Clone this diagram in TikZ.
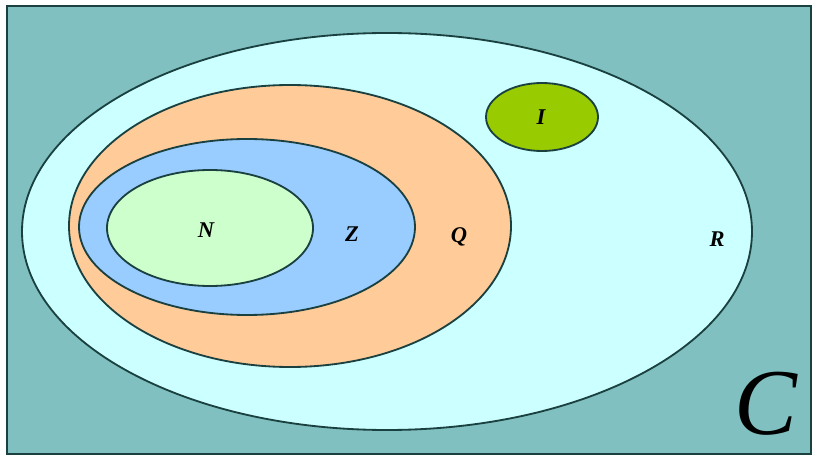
\documentclass[tikz,border=0pt]{standalone}
\usepackage{fontspec}
\setmainfont{Liberation Serif}
\definecolor{bgteal}{HTML}{80C0C0}
\definecolor{setedge}{HTML}{1A4040}
\definecolor{realcyan}{HTML}{CCFFFF}
\definecolor{ratorange}{HTML}{FFCC99}
\definecolor{intblue}{HTML}{99CCFF}
\definecolor{natgreen}{HTML}{CCFFCC}
\definecolor{irrgreen}{HTML}{99CC00}
\tikzset{
  setline/.style={draw=setedge,line width=1.3pt},
  setname/.style={font=\fontsize{16}{16}\selectfont\bfseries\itshape}
}
\begin{document}
\begin{tikzpicture}[x=0.025cm,y=-0.025cm]
  \useasboundingbox (0,0) rectangle (817,459);
  % Frame
  \fill[white] (0,0) rectangle (817,459);
  \draw[fill=bgteal,draw=setedge,line width=1.4pt] (7,6) rectangle (811,454);
  % Nested sets
  \draw[setline,fill=realcyan] (387,231.5) ellipse (365 and 198.5);
  \draw[setline,fill=ratorange] (290,226) ellipse (221 and 141);
  \draw[setline,fill=intblue] (247,227) ellipse (168 and 88);
  \draw[setline,fill=natgreen] (210,228) ellipse (103 and 58);
  \draw[setline,fill=irrgreen] (542,117) ellipse (56 and 34);
  % Labels
  \node[setname] (lN) at (206,230) {N};
  \node[setname] (lZ) at (352,234) {Z};
  \node[setname] (lQ) at (459,237) {Q};
  \node[setname] (lR) at (717,239) {R};
  \node[setname] (lI) at (541,117) {I};
  \node[font=\fontsize{67}{67}\selectfont\itshape] (lC) at (766,404) {C};
\end{tikzpicture}
\end{document}
